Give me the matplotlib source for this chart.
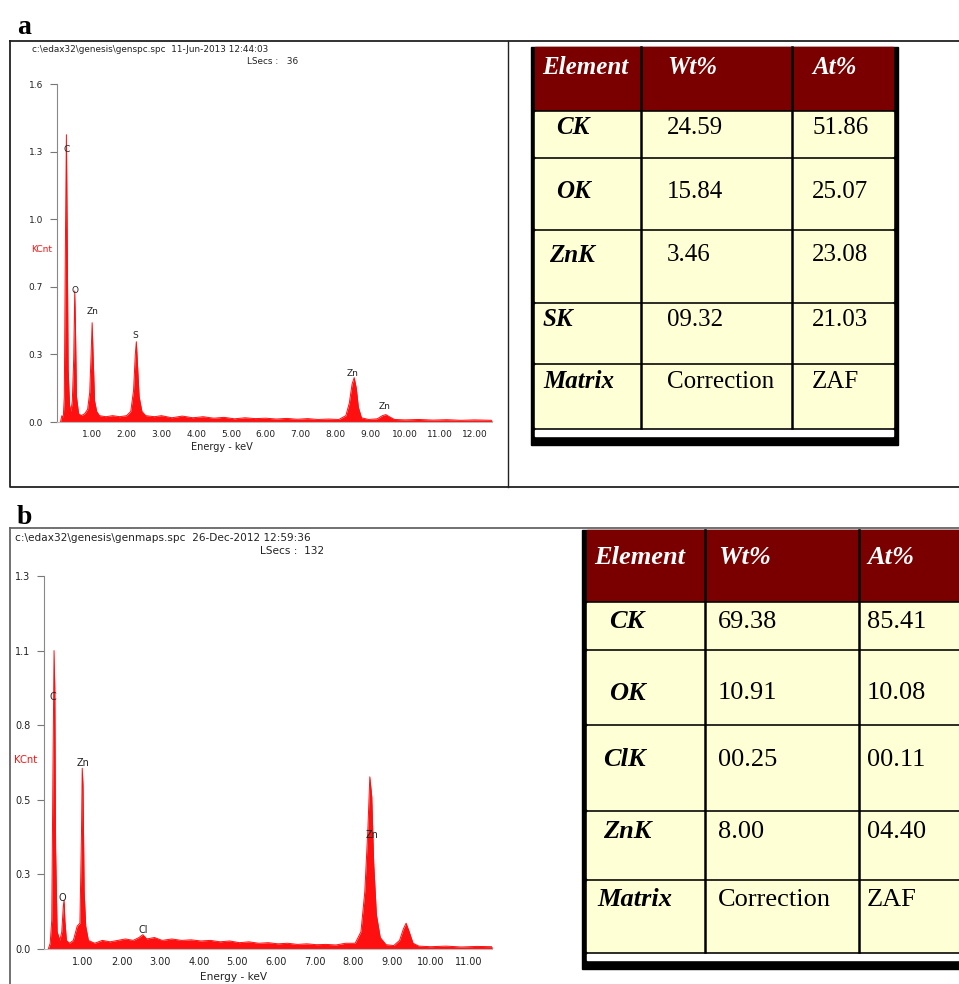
import matplotlib.pyplot as plt
from matplotlib.patches import Rectangle

# ---- spectrum a (genspc.spc) ----
energy_a = [0.10, 0.14, 0.18, 0.21, 0.24, 0.27, 0.29, 0.32, 0.36, 0.40, 0.44, 0.48, 0.51, 0.53,
            0.56, 0.62, 0.70, 0.80, 0.88, 0.94, 0.98, 1.01, 1.04, 1.08, 1.14, 1.22, 1.40, 1.60,
            1.80, 2.00, 2.12, 2.20, 2.25, 2.28, 2.31, 2.36, 2.44, 2.55, 2.80, 3.00, 3.30, 3.60,
            3.90, 4.20, 4.50, 4.80, 5.10, 5.40, 5.70, 6.00, 6.30, 6.60, 6.90, 7.20, 7.50, 7.80,
            8.10, 8.30, 8.40, 8.48, 8.54, 8.60, 8.66, 8.75, 8.95, 9.20, 9.35, 9.45, 9.55, 9.70,
            10.0, 10.4, 10.8, 11.2, 11.6, 12.0, 12.5]
kcnt_a = [0.00, 0.03, 0.02, 0.12, 0.82, 1.36, 0.95, 0.25, 0.08, 0.05, 0.10, 0.30, 0.62, 0.45,
          0.12, 0.04, 0.03, 0.04, 0.06, 0.14, 0.32, 0.47, 0.30, 0.10, 0.05, 0.03, 0.025, 0.03,
          0.025, 0.03, 0.05, 0.15, 0.32, 0.38, 0.28, 0.12, 0.05, 0.03, 0.025, 0.03, 0.02, 0.028,
          0.02, 0.025, 0.018, 0.022, 0.015, 0.02, 0.016, 0.018, 0.014, 0.017, 0.013, 0.016, 0.012, 0.014,
          0.012, 0.03, 0.09, 0.18, 0.21, 0.16, 0.07, 0.02, 0.012, 0.015, 0.03, 0.035, 0.025, 0.012,
          0.01, 0.012, 0.009, 0.011, 0.008, 0.01, 0.008]
peak_names_a = ['C', 'O', 'Zn', 'S', 'Zn', 'Zn']
peak_e_a = [0.27, 0.52, 1.03, 2.24, 8.50, 9.42]
peak_h_a = [1.27, 0.60, 0.50, 0.39, 0.21, 0.05]
yticks_a = ['0.0', '0.3', '0.7', '1.0', '1.3', '1.6']
xticks_a = ['1.00', '2.00', '3.00', '4.00', '5.00', '6.00', '7.00', '8.00', '9.00', '10.00', '11.00', '12.00']

# ---- spectrum b (genmaps.spc) ----
energy_b = [0.10, 0.15, 0.19, 0.22, 0.25, 0.27, 0.29, 0.33, 0.40, 0.45, 0.49, 0.51, 0.53, 0.57,
            0.65, 0.75, 0.85, 0.92, 0.96, 0.98, 1.00, 1.03, 1.07, 1.14, 1.30, 1.50, 1.70, 1.90,
            2.10, 2.30, 2.45, 2.55, 2.65, 2.85, 3.05, 3.30, 3.55, 3.80, 4.05, 4.30, 4.55, 4.80,
            5.05, 5.30, 5.55, 5.80, 6.05, 6.30, 6.55, 6.80, 7.05, 7.30, 7.55, 7.80, 8.05, 8.20,
            8.30, 8.38, 8.43, 8.48, 8.53, 8.60, 8.70, 8.85, 9.05, 9.20, 9.30, 9.37, 9.45, 9.55,
            9.70, 10.0, 10.4, 10.8, 11.2, 11.6]
kcnt_b = [0.00, 0.02, 0.10, 0.60, 1.04, 0.90, 0.35, 0.06, 0.03, 0.06, 0.15, 0.17, 0.10, 0.03,
          0.02, 0.03, 0.08, 0.09, 0.40, 0.63, 0.57, 0.20, 0.08, 0.03, 0.02, 0.03, 0.025, 0.03,
          0.035, 0.03, 0.04, 0.05, 0.035, 0.04, 0.03, 0.035, 0.03, 0.032, 0.028, 0.03, 0.025, 0.028,
          0.022, 0.025, 0.02, 0.022, 0.018, 0.02, 0.016, 0.018, 0.015, 0.016, 0.014, 0.02, 0.02, 0.06,
          0.20, 0.42, 0.60, 0.53, 0.30, 0.12, 0.04, 0.015, 0.012, 0.03, 0.07, 0.09, 0.06, 0.02,
          0.01, 0.008, 0.01, 0.007, 0.009, 0.008]
peak_names_b = ['C', 'O', 'Zn', 'Cl', 'Zn']
peak_e_b = [0.22, 0.47, 1.00, 2.56, 8.50]
peak_h_b = [0.86, 0.16, 0.63, 0.05, 0.38]
yticks_b = ['0.0', '0.3', '0.5', '0.8', '1.1', '1.3']
xticks_b = ['1.00', '2.00', '3.00', '4.00', '5.00', '6.00', '7.00', '8.00', '9.00', '10.00', '11.00']

# ---- composition tables ----
header = ['Element', 'Wt%', 'At%']
elem_a = ['CK', 'OK', 'ZnK', 'SK', 'Matrix']
wt_a = ['24.59', '15.84', '3.46', '09.32', 'Correction']
at_a = ['51.86', '25.07', '23.08', '21.03', 'ZAF']
elem_b = ['CK', 'OK', 'ClK', 'ZnK', 'Matrix']
wt_b = ['69.38', '10.91', '00.25', '8.00', 'Correction']
at_b = ['85.41', '10.08', '00.11', '04.40', 'ZAF']

W, H = 959, 984
RED = '#ff1010'
fig = plt.figure(figsize=(W / 100, H / 100), dpi=100)
bg = fig.add_axes([0, 0, 1, 1], zorder=0)
bg.set_xlim(0, W)
bg.set_ylim(H, 0)
bg.axis('off')

# panel frames
bg.plot([10, 970, 970, 10, 10], [41, 41, 487, 487, 41], color='#222', lw=1.3, clip_on=False)
bg.plot([508, 508], [41, 487], color='#222', lw=1.0)
bg.plot([10, 970], [528, 528], color='#666', lw=1.3, clip_on=False)
bg.plot([10, 10], [528, 990], color='#666', lw=1.3, clip_on=False)
bg.text(17, 34, 'a', fontsize=20, fontweight='bold', family='Liberation Serif')
bg.text(17, 524, 'b', fontsize=20, fontweight='bold', family='Liberation Serif')


def spectrum(rect, energy, kcnt, xmax, ymax, yt, xt, names, pe, ph, fs):
    ax = fig.add_axes(rect, zorder=1)
    ax.patch.set_alpha(0)
    ax.fill_between(energy, kcnt, 0, color=RED, lw=0)
    ax.plot(energy, kcnt, color=RED, lw=0.7)
    ax.set_xlim(0, xmax)
    ax.set_ylim(0, ymax)
    ax.set_yticks([ymax * i / 5 for i in range(6)])
    ax.set_yticklabels(yt)
    ax.set_xticks(range(1, len(xt) + 1))
    ax.set_xticklabels(xt)
    for s in ['top', 'right']:
        ax.spines[s].set_visible(False)
    ax.spines['left'].set_color('#888')
    ax.spines['bottom'].set_color('#bbb')
    ax.tick_params(axis='y', direction='out', length=5, color='#777', labelsize=fs,
                   labelcolor='#222', pad=5)
    ax.tick_params(axis='x', length=0, labelsize=fs, labelcolor='#222', pad=6)
    for n, e, h in zip(names, pe, ph):
        ax.text(e, h, n, fontsize=fs, ha='center', va='bottom', color='#222')
    return ax


spectrum([57 / W, 1 - 422 / H, 435 / W, 338 / H], energy_a, kcnt_a, 12.5, 1.6,
         yticks_a, xticks_a, peak_names_a, peak_e_a, peak_h_a, 6.5)
spectrum([44.4 / W, 1 - 949 / H, 447.8 / W, 373 / H], energy_b, kcnt_b, 11.6, 1.3,
         yticks_b, xticks_b, peak_names_b, peak_e_b, peak_h_b, 7)

# header lines and axis titles
bg.text(32, 50, 'c:\\edax32\\genesis\\genspc.spc  11-Jun-2013 12:44:03', fontsize=6.4,
        va='center', color='#222')
bg.text(247, 61, 'LSecs :   36', fontsize=6.4, va='center', color='#222')
bg.text(31, 249, 'KCnt', fontsize=6.5, va='center', color=RED)
bg.text(222, 447, 'Energy - keV', fontsize=7, ha='center', va='center', color='#222')
bg.text(15, 538, 'c:\\edax32\\genesis\\genmaps.spc  26-Dec-2012 12:59:36', fontsize=7.6,
        va='center', color='#222')
bg.text(260, 551, 'LSecs :  132', fontsize=7.6, va='center', color='#222')
bg.text(14, 760, 'KCnt', fontsize=7.2, va='center', color=RED)
bg.text(233, 977, 'Energy - keV', fontsize=7.6, ha='center', va='center', color='#222')


def table(x0, x_in, cols, right, rows, text_y, head_y, elem_x, col_x, elem, wt, at, fs):
    top, bottom = rows[0], rows[-1]
    bg.add_patch(Rectangle((x0, top), right - x0 + 5, bottom + 17 - top, color='black', zorder=2))
    bg.add_patch(Rectangle((x_in, bottom + 2), right - x_in, 6, color='white', zorder=3))
    bg.add_patch(Rectangle((x_in, top), right - x_in, rows[1] - top - 1, color='#7a0000', zorder=3))
    for r in range(1, len(rows) - 1):
        bg.add_patch(Rectangle((x_in, rows[r] + 1.5), right - x_in, rows[r + 1] - rows[r] - 3,
                               color='#ffffd6', zorder=3))
    for c in cols:
        bg.plot([c, c], [top, bottom], color='black', lw=1.8, zorder=4)
    tf = dict(family='Liberation Serif', fontsize=fs, va='center', zorder=5)
    for h, x in zip(header, [x_in + 7] + col_x):
        bg.text(x, head_y, h, color='white', fontweight='bold', style='italic', **tf)
    for i in range(len(elem)):
        bg.text(elem_x[i], text_y[i], elem[i], fontweight='bold', style='italic', **tf)
        bg.text(col_x[0], text_y[i], wt[i], **tf)
        bg.text(col_x[1], text_y[i], at[i], **tf)


table(531, 535, [641, 792], 893, [47, 110, 157, 229, 302, 363, 428],
      [128, 192, 255, 320, 382], 67, [556, 556, 549, 543, 543], [667, 812],
      elem_a, wt_a, at_a, 18)
table(582, 587, [705, 859], 975, [530, 601, 649, 724, 810, 879, 952],
      [622, 693, 760, 832, 900], 557, [609, 609, 603, 603, 597], [718, 867],
      elem_b, wt_b, at_b, 19)

fig.savefig('out.png', dpi=100)
